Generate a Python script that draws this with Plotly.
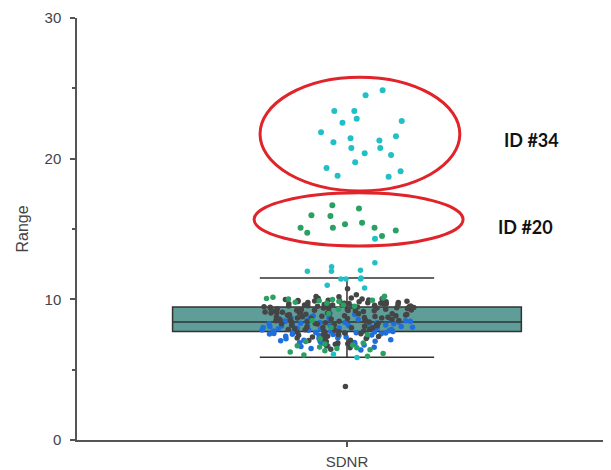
import plotly.graph_objects as go

category = ["SDNR"]

# box statistics
box_q1 = [7.71]
box_median = [8.38]
box_q3 = [9.45]
box_lower = [5.88]
box_upper = [11.52]

# dense cluster, by colour group
gray_vals = [10.32, 10.2, 10.18, 10.1, 10.05, 10.02, 9.98, 9.95, 9.92, 9.9, 9.88, 9.85,
             9.82, 9.8, 9.78, 9.75, 9.72, 9.7, 9.68, 9.66, 9.64, 9.62, 9.6, 9.58, 9.55,
             9.52, 9.5, 9.48, 9.45, 9.42, 9.4, 9.38, 9.35, 9.32, 9.3, 9.28, 9.25, 9.22,
             9.2, 9.18, 9.15, 9.12, 9.1, 9.08, 9.05, 9.02, 9.0, 8.97, 8.94, 8.9, 8.87,
             8.84, 8.8, 8.77, 8.74, 8.7, 8.67, 8.64, 8.6, 8.57, 8.54, 8.5, 8.47, 8.44,
             8.4, 8.37, 8.34, 8.3, 8.27, 8.24, 8.2, 8.16, 8.12, 8.08, 8.04, 8.0, 7.96,
             7.92, 7.88, 7.84, 7.8, 7.75, 7.7, 7.65, 7.6, 7.55, 7.5, 7.44, 7.38, 7.32,
             7.25, 7.18, 7.1, 7.0, 6.9, 6.8, 6.7, 6.55, 6.45, 10.76, 3.8,
             9.97, 9.87, 9.77, 9.67, 9.57, 9.47, 9.37, 9.27, 9.17, 9.07, 8.98, 8.88,
             8.78, 8.68, 8.58, 8.48, 8.38, 8.28, 8.18, 8.08, 7.98, 7.86, 7.73, 7.62,
             7.48, 7.35, 7.22, 7.08, 6.95, 6.85, 9.63, 9.53, 9.43, 9.33, 9.23, 9.13,
             9.03, 8.93, 8.83, 8.73, 10.08, 9.93, 9.83, 9.73, 9.69, 9.59, 9.49, 9.39,
             8.63, 8.53]
blue_vals = [9.02, 8.92, 8.84, 8.78, 8.72, 8.68, 8.63, 8.58, 8.55, 8.52, 8.48, 8.45,
             8.42, 8.38, 8.35, 8.32, 8.3, 8.27, 8.24, 8.2, 8.17, 8.14, 8.1, 8.07, 8.04,
             8.0, 7.97, 7.94, 7.9, 7.87, 7.84, 7.8, 7.77, 7.74, 7.7, 7.67, 7.64, 7.6,
             7.57, 7.54, 7.5, 7.46, 7.42, 7.38, 7.34, 7.3, 7.25, 7.2, 7.15, 7.1, 7.05,
             7.0, 6.94, 6.88, 6.82, 6.75, 6.68, 6.6, 6.5, 6.4,
             8.56, 8.46, 8.36, 8.26, 8.16, 8.06, 7.96, 7.86, 7.76, 7.66, 7.56, 7.44,
             7.32, 7.22, 7.12, 7.02, 6.92, 6.78, 6.64, 8.76, 8.66, 7.52, 7.62, 7.72,
             7.82, 7.92, 8.02, 8.12]
green_vals = [10.22, 10.15, 10.1, 10.06, 10.02, 9.98, 9.94, 9.9, 9.85, 9.8, 9.72, 9.6,
              9.5, 9.3, 9.0, 8.5, 8.0, 7.5, 7.2, 7.0, 6.9, 6.82, 6.76, 6.7, 6.62, 6.56,
              6.5, 6.42, 6.34, 6.25, 6.15, 6.05, 5.95]
cyan_low_vals = [12.6, 12.31, 12.07, 12.0, 12.0, 11.52, 11.45, 11.45, 11.45, 11.0,
                 10.81, 6.1, 5.86]

# outlier groups
green_id20_vals = [16.69, 16.45, 15.98, 15.93, 15.45, 15.33, 15.09, 15.09, 15.09,
                   14.9, 14.74, 14.5]
cyan_id20_vals = [14.3]
cyan_id34_vals = [24.86, 24.5, 23.38, 23.38, 22.83, 22.67, 22.55, 21.88, 21.6, 21.45,
                  21.29, 21.17, 20.76, 20.76, 20.38, 20.26, 19.74, 19.33, 19.1, 18.79,
                  18.71]

GRAY = "#454545"
BLUE = "#1e6fdc"
GREEN = "#2aa162"
CYAN = "#20c0c6"

fig = go.Figure()

fig.add_trace(go.Box(
    x=category, q1=box_q1, median=box_median, q3=box_q3,
    lowerfence=box_lower, upperfence=box_upper,
    width=0.646, whiskerwidth=0.5, boxpoints=False,
    fillcolor="#5f9d99", line=dict(color="#333333", width=1.5),
    showlegend=False, hoverinfo="skip",
))


def pts(vals, color, width, pointpos=0.0, size=6):
    return go.Box(
        x=category * len(vals), y=vals, boxpoints="all", jitter=1,
        pointpos=pointpos, width=width,
        fillcolor="rgba(0,0,0,0)", line=dict(color="rgba(0,0,0,0)", width=0),
        marker=dict(color=color, size=size, line=dict(width=0)),
        showlegend=False, hoverinfo="y",
    )


fig.add_trace(pts(blue_vals, BLUE, 0.29, -0.1, 5.5))
fig.add_trace(pts(gray_vals, GRAY, 0.29, -0.1, 5.5))
fig.add_trace(pts(green_vals, GREEN, 0.29, -0.1, 5.5))
fig.add_trace(pts(cyan_low_vals, CYAN, 0.2, 0.0, 5.5))
fig.add_trace(pts(green_id20_vals, GREEN, 0.25, 0.0))
fig.add_trace(pts(cyan_id20_vals, CYAN, 0.2, 0.0))
fig.add_trace(pts(cyan_id34_vals, CYAN, 0.18, 0.4))

RED = "#e0242a"
fig.add_shape(type="circle", xref="x", yref="y", x0=-0.161, x1=0.209, y0=17.71, y1=25.79,
              line=dict(color=RED, width=3))
fig.add_shape(type="circle", xref="x", yref="y", x0=-0.172, x1=0.215, y0=13.79, y1=17.57,
              line=dict(color=RED, width=3))

fig.add_annotation(x=0.341, y=21.3, xref="x", yref="y", text="<b>ID #34</b>",
                   showarrow=False, font=dict(family="Lato", size=18, color="#111111"))
fig.add_annotation(x=0.331, y=15.14, xref="x", yref="y", text="<b>ID #20</b>",
                   showarrow=False, font=dict(family="Lato", size=18, color="#111111"))

AX = "#555555"
# page body has an 8px margin, so the figure is 8px smaller and margins shifted
fig.update_layout(
    width=603, height=462,
    margin=dict(l=69, r=0, t=10, b=24),
    paper_bgcolor="white", plot_bgcolor="white",
    boxmode="overlay", showlegend=False,
    font=dict(family="Liberation Sans, Arial", size=15, color="#444444"),
    xaxis=dict(
        type="category", range=[-0.5, 0.489],
        showline=True, linecolor=AX, linewidth=1.5, showgrid=False, zeroline=False,
        ticks="outside", ticklen=5, tickcolor=AX, tickwidth=1.5,
        tickfont=dict(size=15, color="#444444"), ticklabelstandoff=2,
    ),
    yaxis=dict(
        range=[0, 30], tickvals=[0, 10, 20, 30],
        showline=True, linecolor=AX, linewidth=1.5, showgrid=False, zeroline=False,
        ticks="outside", ticklen=5, tickcolor=AX, tickwidth=1.5,
        minor=dict(tickvals=[5, 15, 25], ticks="outside", ticklen=3, tickcolor=AX, tickwidth=1.5),
        tickfont=dict(size=15, color="#444444"), ticklabelstandoff=6,
        title=dict(text="Range", font=dict(size=16, color="#444444"), standoff=12),
    ),
)

fig.write_html("out.html")
